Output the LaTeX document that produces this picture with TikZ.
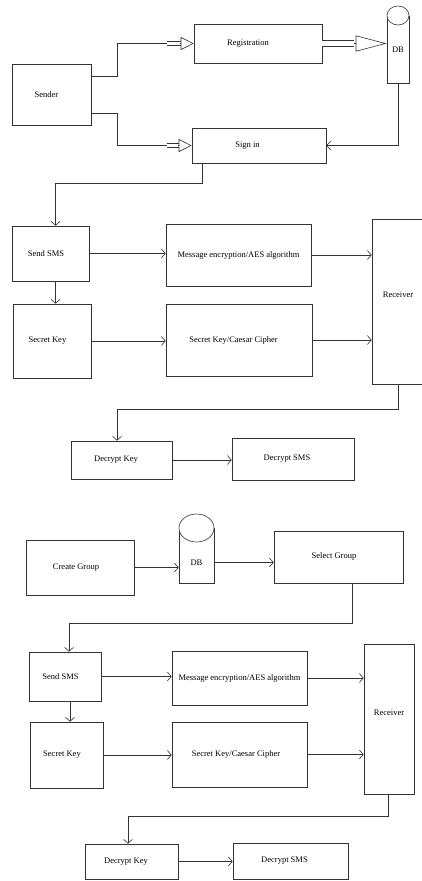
\documentclass[tikz,border=0pt]{standalone}
\usepackage{fontspec}
\setmainfont{Liberation Serif}
\usetikzlibrary{arrows.meta}

\begin{document}
\begin{tikzpicture}[x=1pt,y=-1pt,font=\fontsize{8.5}{10}\selectfont,
  line width=0.6pt,black!80,
  blk/.style 2 args={draw,minimum width=#1pt,minimum height=#2pt,inner sep=1pt,text=black},
  dbtxt/.style 2 args={minimum width=#1pt,minimum height=#2pt,inner sep=0pt,text=black},
  flow/.style={-{Straight Barb[length=4pt,width=9pt]}},
  shaft/.style={double,double distance=#1}]
  \useasboundingbox (0,0) rectangle (422,881);

  % login part
  \node[blk={79}{61}] (sender) at (51.5,94.5) {Sender\kern10pt};
  \node[blk={128}{39}] (reg) at (258,43.5) {Registration\kern20pt};
  \node[dbtxt={22}{58}] (dbA) at (398,54) {\raisebox{8pt}{DB}};
  \draw (387,15.5) -- (387,83) -- (409,83) -- (409,15.5);
  \draw[fill=white] (398,15.5) ellipse (11pt and 9.5pt);
  \node[blk={134}{35}] (signin) at (259,145.5) {Sign in\kern23pt};

  \draw ([yshift=18.5pt]sender.east) -- ++(26,0) |- ([xshift=-27pt]reg.west);
  \draw[shaft=3pt] ([xshift=-27pt]reg.west) -- ([xshift=-13pt]reg.west);
  \draw[arrows={-Triangle[open,length=13pt,width=13pt]}] ([xshift=-13.5pt]reg.west) -- (reg.west);
  \draw ([yshift=-18.5pt]sender.east) -- ++(26,0) |- ([xshift=-25pt]signin.west);
  \draw[shaft=3pt] ([xshift=-25pt]signin.west) -- ([xshift=-13pt]signin.west);
  \draw[arrows={-Triangle[open,length=13pt,width=13pt]}] ([xshift=-13.5pt]signin.west) -- (signin.west);
  \draw[shaft=5pt] (reg.east) -- ([xshift=32pt]reg.east);
  \draw[arrows={-Triangle[open,length=31pt,width=16pt]}] ([xshift=31.5pt]reg.east) -- (reg.east -| dbA.west);
  \draw[flow] (dbA.south) |- (signin.east);

  % sending part (one to one)
  \node[blk={77}{55}] (sendA) at (50.5,253.5) {Send SMS\kern9pt};
  \node[blk={145}{62}] (encA) at (238.5,255) {Message encryption/AES algorithm};
  \node[blk={78}{74}] (keyA) at (52,341) {Secret Key\kern9pt};
  \node[blk={146}{72}] (caesA) at (239,340) {Secret Key/Caesar Cipher\kern11pt};
  \node[blk={52}{165}] (recA) at (398,301.5) {\raisebox{13pt}{Receiver}};
  \node[blk={101}{38}] (deckA) at (121.5,460) {Decrypt Key\kern11pt};
  \node[blk={122}{42}] (decsA) at (293,459) {Decrypt SMS\kern12pt};

  \draw[flow] ([xshift=-57pt]signin.south) -- ++(0,20) -| ([xshift=5pt]sendA.north);
  \draw[flow] ([xshift=5pt]sendA.south) -- ([xshift=5pt]sendA.south |- keyA.north);
  \draw[flow] (sendA.east) -- (sendA.east -| encA.west);
  \draw[flow] (encA.east) -- (encA.east -| recA.west);
  \draw[flow] (keyA.east) -- (keyA.east -| caesA.west);
  \draw[flow] (caesA.east) -- (caesA.east -| recA.west);
  \draw[flow] (recA.south) -- ++(0,25) -| ([xshift=-4.5pt]deckA.north);
  \draw[flow] (deckA.east) -- (deckA.east -| decsA.west);

  % group part
  \node[blk={108}{55}] (create) at (80,567.5) {Create Group\kern8pt};
  \node[dbtxt={35}{41}] (dbB) at (196.5,562.5) {DB};
  \draw (179,528) -- (179,583) -- (214,583) -- (214,528);
  \draw[fill=white] (196.5,528) ellipse (17.5pt and 14pt);
  \node[blk={129}{52}] (select) at (338.5,557) {\raisebox{2pt}{Select Group\kern9pt}};

  \node[blk={72}{49}] (sendB) at (65,676.5) {Send SMS\kern9pt};
  \node[blk={135}{54}] (encB) at (239.5,678) {Message encryption/AES algorithm};
  \node[blk={73}{66}] (keyB) at (66.5,755) {Secret Key\kern9pt};
  \node[blk={135}{65}] (caesB) at (239.5,754.5) {Secret Key/Caesar Cipher\kern7pt};
  \node[blk={50}{150}] (recB) at (389,719) {\raisebox{12pt}{Receiver}};
  \node[blk={93}{35}] (deckB) at (131.5,861.5) {Decrypt Key\kern11pt};
  \node[blk={115}{36}] (decsB) at (290.5,861) {Decrypt SMS\kern12pt};

  \draw[flow] (create.east) -- (create.east -| dbB.west);
  \draw[flow] (dbB.east) -- (dbB.east -| select.west);
  \draw[flow] ([xshift=13.5pt]select.south) -- ++(0,40) -| ([xshift=4pt]sendB.north);
  \draw[flow] ([xshift=5pt]sendB.south) -- ([xshift=5pt]sendB.south |- keyB.north);
  \draw[flow] (sendB.east) -- (sendB.east -| encB.west);
  \draw[flow] (encB.east) -- (encB.east -| recB.west);
  \draw[flow] (keyB.east) -- (keyB.east -| caesB.west);
  \draw[flow] (caesB.east) -- (caesB.east -| recB.west);
  \draw[flow] ([xshift=-1pt]recB.south) -- ++(0,22) -| ([xshift=-3.5pt]deckB.north);
  \draw[flow] (deckB.east) -- (deckB.east -| decsB.west);
\end{tikzpicture}
\end{document}
